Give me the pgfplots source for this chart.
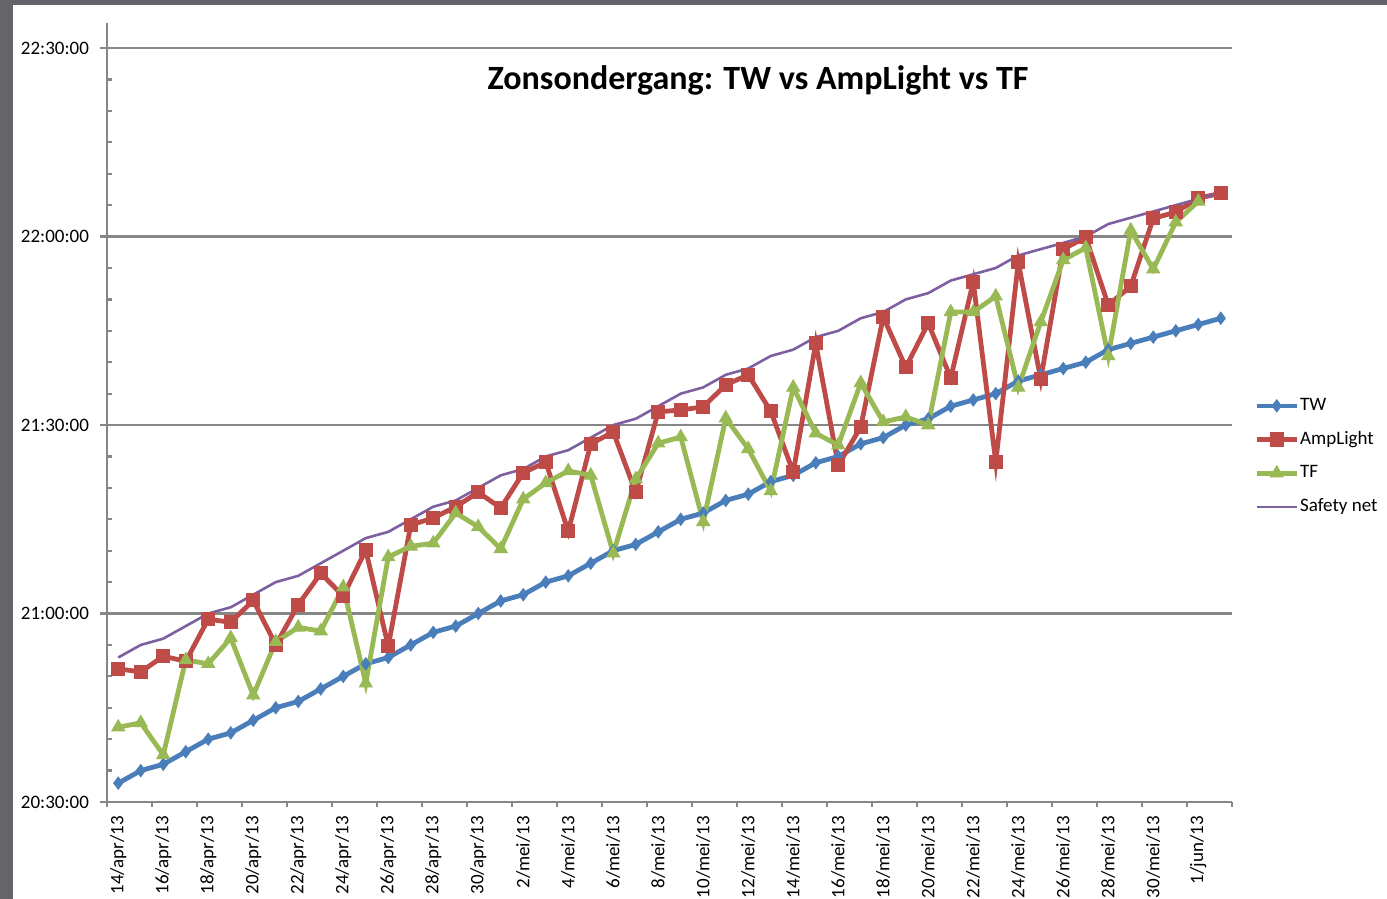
\documentclass[border=0pt]{standalone}
\usepackage{pgfplots}
\pgfplotsset{compat=1.18}
\usepackage{fontspec}
\setmainfont{Carlito}
\definecolor{twblue}{HTML}{4A7EBB}
\definecolor{ampred}{HTML}{BE4B48}
\definecolor{tfgreen}{HTML}{98B954}
\definecolor{snpurple}{HTML}{7D60A0}
\definecolor{gridgray}{HTML}{868686}
\definecolor{frame}{HTML}{67636B}
\begin{document}
\begin{tikzpicture}
\useasboundingbox (-53.5pt,-48.5pt) rectangle (640pt,401pt);
\fill[frame] (-53.5pt,-48.5pt) rectangle (640pt,401pt);
\fill[white] (-47pt,-48.5pt) rectangle (640pt,398.5pt);
\begin{axis}[
  at={(0pt,0pt)}, anchor=south west,
  scale only axis, width=562.5pt, height=389.5pt,
  xmin=-0.5, xmax=49.5, ymin=0, ymax=124,
  axis x line=bottom, axis y line=left,
  axis line style={-, draw=gridgray, line width=1.2pt},
  tick align=outside,
  major tick length=3.5pt, minor tick length=2.5pt,
  every tick/.style={draw=gridgray, line width=1.1pt},
  xtick={0,2,...,48},
  xticklabels={14/apr/13,16/apr/13,18/apr/13,20/apr/13,22/apr/13,24/apr/13,26/apr/13,28/apr/13,30/apr/13,2/mei/13,4/mei/13,6/mei/13,8/mei/13,10/mei/13,12/mei/13,14/mei/13,16/mei/13,18/mei/13,20/mei/13,22/mei/13,24/mei/13,26/mei/13,28/mei/13,30/mei/13,1/jun/13},
  xtick style={draw=none},
  minor xtick={-0.5,1.5,...,49.5},
  minor x tick style={line width=1.1pt, draw=gridgray},
  xticklabel style={rotate=90, anchor=east, font=\fontsize{9.5}{11}\selectfont, xshift=0pt},
  ytick={0,30,60,90,120},
  yticklabels={20:30:00,21:00:00,21:30:00,22:00:00,22:30:00},
  minor ytick={5,10,15,20,25,35,40,45,50,55,65,70,75,80,85,95,100,105,110,115},
  minor y tick style={xshift=2.5pt, line width=1.1pt, draw=gridgray},
  yticklabel style={font=\fontsize{9.5}{11}\selectfont, xshift=-2pt},
  ymajorgrids, major grid style={draw=gridgray, line width=1.2pt},
  legend style={at={(1.0195,0.52)}, anchor=north west, draw=none, fill=none,
    font=\fontsize{9.5}{11}\selectfont, row sep=8pt, inner sep=0pt,
    nodes={inner sep=0.5pt}},
  legend cell align=left,
  legend image code/.code={\draw[mark repeat=2,mark phase=2] plot coordinates {(0pt,0pt) (10pt,0pt) (20pt,0pt)};},
  clip=false,
]
\addplot[twblue, line width=2.4pt, mark=diamond*, mark size=3pt, mark options={solid, line width=0.5pt}] coordinates {
(0,3) (1,5) (2,6) (3,8) (4,10) (5,11) (6,13) (7,15) (8,16) (9,18)
(10,20) (11,22) (12,23) (13,25) (14,27) (15,28) (16,30) (17,32) (18,33) (19,35)
(20,36) (21,38) (22,40) (23,41) (24,43) (25,45) (26,46) (27,48) (28,49) (29,51)
(30,52) (31,54) (32,55) (33,57) (34,58) (35,60) (36,61) (37,63) (38,64) (39,65)
(40,67) (41,68) (42,69) (43,70) (44,72) (45,73) (46,74) (47,75) (48,76) (49,77)};
\addlegendentry{TW}
\addplot[ampred, line width=2.4pt, mark=square*, mark size=3.3pt, mark options={solid, line width=0.5pt}] coordinates {
(0,21.2) (1,20.7) (2,23.2) (3,22.4) (4,29.1) (5,28.6) (6,32.1) (7,25.0) (8,31.4) (9,36.4)
(10,32.8) (11,40.1) (12,24.8) (13,44.1) (14,45.2) (15,47.0) (16,49.3) (17,46.8) (18,52.4) (19,54.1)
(20,43.1) (21,57.0) (22,58.9) (23,49.3) (24,62.1) (25,62.4) (26,62.9) (27,66.4) (28,68.0) (29,62.2)
(30,52.5) (31,73.0) (32,53.6) (33,59.7) (34,77.2) (35,69.2) (36,76.2) (37,67.5) (38,82.8) (39,54.1)
(40,85.9) (41,67.3) (42,88.0) (43,89.9) (44,79.1) (45,82.1) (46,92.9) (47,93.9) (48,96.1) (49,96.9)};
\addlegendentry{AmpLight}
\addplot[tfgreen, line width=2.4pt, mark=triangle*, mark size=3.7pt, mark options={solid, line width=0.5pt}] coordinates {
(0,11.9) (1,12.6) (2,7.5) (3,22.6) (4,22.0) (5,26.1) (6,17.0) (7,25.5) (8,27.8) (9,27.2)
(10,34.2) (11,18.9) (12,39.0) (13,40.7) (14,41.2) (15,46.0) (16,43.8) (17,40.3) (18,48.2) (19,50.8)
(20,52.7) (21,52.0) (22,39.6) (23,51.4) (24,57.1) (25,58.1) (26,44.6) (27,61.1) (28,56.2) (29,49.5)
(30,66.0) (31,58.7) (32,56.8) (33,66.7) (34,60.5) (35,61.3) (36,60.0) (37,78.0) (38,78.0) (39,80.5)
(40,66.0) (41,76.4) (42,86.3) (43,88.2) (44,71.0) (45,91.0) (46,84.8) (47,92.3) (48,95.6)};
\addlegendentry{TF}
\addplot[snpurple, line width=1.3pt, mark=none] coordinates {
(0,23) (1,25) (2,26) (3,28) (4,30) (5,31) (6,33) (7,35) (8,36) (9,38)
(10,40) (11,42) (12,43) (13,45) (14,47) (15,48) (16,50) (17,52) (18,53) (19,55)
(20,56) (21,58) (22,60) (23,61) (24,63) (25,65) (26,66) (27,68) (28,69) (29,71)
(30,72) (31,74) (32,75) (33,77) (34,78) (35,80) (36,81) (37,83) (38,84) (39,85)
(40,87) (41,88) (42,89) (43,90) (44,92) (45,93) (46,94) (47,95) (48,96) (49,97)};
\addlegendentry{Safety net}
\end{axis}
\node[font=\bfseries\fontsize{17}{20}\selectfont, anchor=center] at (325.5pt,361pt) {Zonsondergang: TW vs AmpLight vs TF};
\end{tikzpicture}
\end{document}
